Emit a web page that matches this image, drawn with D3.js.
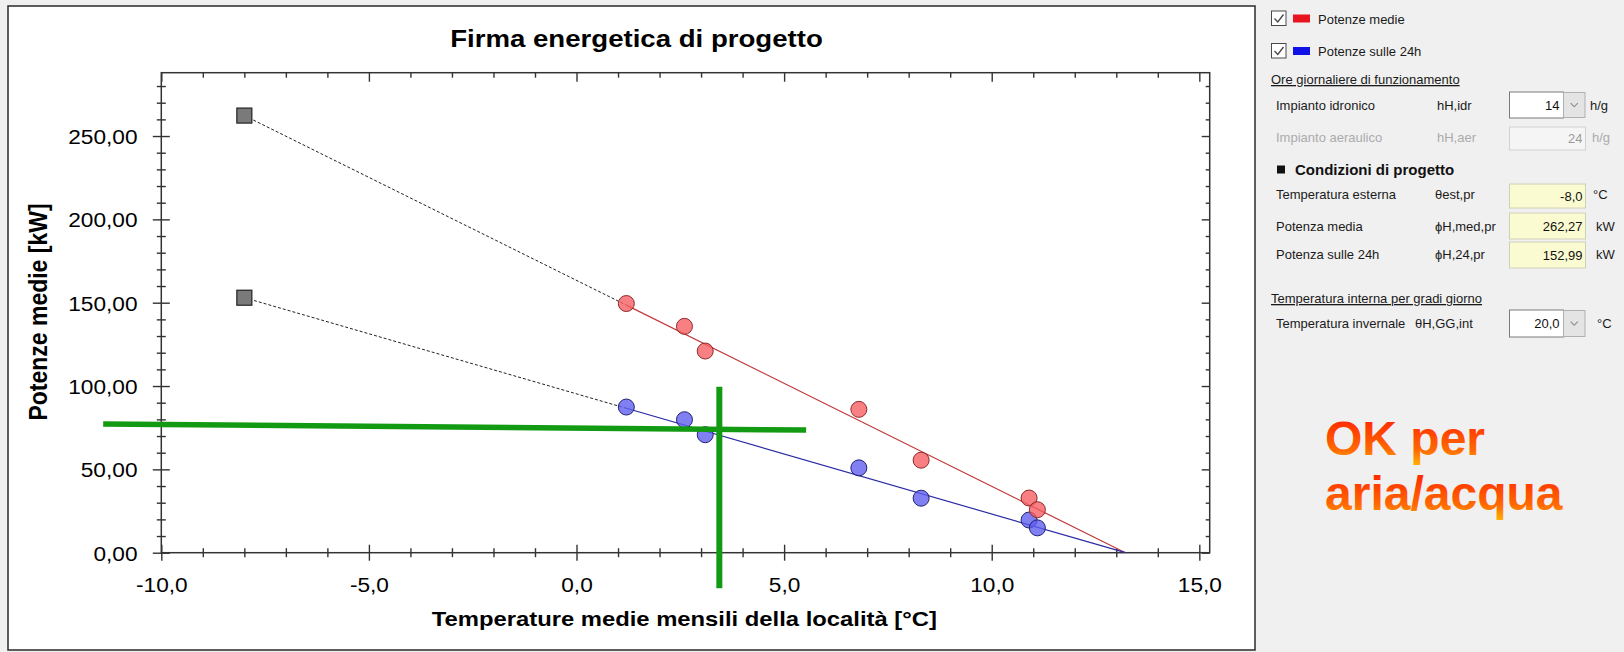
<!DOCTYPE html>
<html>
<head>
<meta charset="utf-8">
<script src="https://cdn.jsdelivr.net/npm/d3@7"></script>
<style>
  html, body { margin: 0; padding: 0; background: #f0f0f0; }
  svg { display: block; }
  text { font-family: "Liberation Sans", Arial, sans-serif; }
</style>
</head>
<body>
<svg id="chart" width="1624" height="652"></svg>
<script>
// Monthly mean outdoor temperatures of the site (°C)
const monthTemps = [1.2, 2.6, 3.1, 6.8, 8.3, 10.9, 11.1];
// Mean heating power per month (kW)
const potenzeMedie = [149.5, 135.8, 121.0, 86.0, 55.5, 32.8, 25.8];
// Power spread over 24 h (kW)
const potenze24h = [87.4, 79.8, 70.8, 50.9, 32.7, 19.6, 14.9];

// Design conditions
const designTemp = -8.0;
const designMedia = 262.27;
const design24h = 152.99;
const zeroLoadTemp = 13.22;
const oreIdronico = 14;
const oreAeraulico = 24;
const tempInvernale = 20.0;

// Axis ticks and extents
const xTicks = [-10, -5, 0, 5, 10, 15];
const yTicks = [0, 50, 100, 150, 200, 250];
const xDomain = [-10, 15.25];
const yDomain = [0, 288];

// Reading guides drawn over the chart (°C, kW)
const guideHTemps = [-11.4, 5.53];
const guideHPowers = [77.2, 73.6];
const guideVTemps = [3.44, 3.44];
const guideVPowers = [99.6, -21.4];

const it = d3.formatLocale({ decimal: ",", thousands: ".", grouping: [3], currency: ["", " €"], minus: "-" });
const fx = it.format(".1f");
const fy = it.format(".2f");

const svg = d3.select("#chart");

// ---------- chart panel ----------
svg.append("rect").attr("x", 8).attr("y", 6).attr("width", 1247).attr("height", 644)
  .attr("fill", "#ffffff").attr("stroke", "#2a2a2a").attr("stroke-width", 1.5);

const x = d3.scaleLinear().domain(xDomain).range([161.3, 1209.7]);
const y = d3.scaleLinear().domain(yDomain).range([552.7, 72.7]);

const axisColor = "#333";
const minorX = d3.range(-10, 16).filter(v => v % 5 !== 0);
const minorY = d3.range(0, 290, 10).filter(v => v % 50 !== 0);

function styleTicks(g) {
  g.select(".domain").remove();
  g.attr("font-size", null).attr("font-family", null);
  g.selectAll(".tick line").attr("stroke", axisColor).attr("stroke-width", 1.4);
}

// bottom axis: major ticks with labels, crossing the axis line
const gB = svg.append("g").attr("transform", `translate(0,${y(0)})`)
  .call(d3.axisBottom(x).tickValues(xTicks).tickFormat(fx).tickSizeOuter(0));
styleTicks(gB);
gB.selectAll(".tick line").attr("y1", -8).attr("y2", 8);
gB.selectAll(".tick text").attr("y", null).attr("dy", null)
  .attr("transform", "translate(0,39) scale(1.08,1)")
  .attr("font-size", 21).attr("fill", "#000");

const gBm = svg.append("g").attr("transform", `translate(0,${y(0)})`)
  .call(d3.axisBottom(x).tickValues(minorX).tickFormat("").tickSizeOuter(0));
styleTicks(gBm);
gBm.selectAll(".tick line").attr("y1", -4.5).attr("y2", 4.5);

// left axis
const gL = svg.append("g").attr("transform", `translate(${x(xDomain[0])},0)`)
  .call(d3.axisLeft(y).tickValues(yTicks).tickFormat(fy).tickSizeOuter(0));
styleTicks(gL);
gL.selectAll(".tick line").attr("x1", -8.5).attr("x2", 8.5);
gL.selectAll(".tick text").attr("x", null).attr("dy", "0.36em")
  .attr("transform", "translate(-23.8,0) scale(1.08,1)")
  .attr("text-anchor", "end").attr("font-size", 21).attr("fill", "#000");

const gLm = svg.append("g").attr("transform", `translate(${x(xDomain[0])},0)`)
  .call(d3.axisLeft(y).tickValues(minorY).tickFormat("").tickSizeOuter(0));
styleTicks(gLm);
gLm.selectAll(".tick line").attr("x1", -4.5).attr("x2", 4.5);

// top and right mirrored ticks, pointing inward
const gT = svg.append("g").attr("transform", `translate(0,${y(yDomain[1])})`)
  .call(d3.axisTop(x).tickValues(xTicks).tickFormat("").tickSizeInner(-9).tickSizeOuter(0));
styleTicks(gT);
const gTm = svg.append("g").attr("transform", `translate(0,${y(yDomain[1])})`)
  .call(d3.axisTop(x).tickValues(minorX).tickFormat("").tickSizeInner(-5).tickSizeOuter(0));
styleTicks(gTm);
const gR = svg.append("g").attr("transform", `translate(${x(xDomain[1])},0)`)
  .call(d3.axisRight(y).tickValues(yTicks).tickFormat("").tickSizeInner(-8).tickSizeOuter(0));
styleTicks(gR);
const gRm = svg.append("g").attr("transform", `translate(${x(xDomain[1])},0)`)
  .call(d3.axisRight(y).tickValues(minorY).tickFormat("").tickSizeInner(-4).tickSizeOuter(0));
styleTicks(gRm);

// plot frame
svg.append("rect")
  .attr("x", x(xDomain[0])).attr("y", y(yDomain[1]))
  .attr("width", x(xDomain[1]) - x(xDomain[0])).attr("height", y(yDomain[0]) - y(yDomain[1]))
  .attr("fill", "none").attr("stroke", axisColor).attr("stroke-width", 1.5);

// titles
svg.append("text")
  .attr("transform", "translate(636.5,46.7) scale(1.15,1)")
  .attr("text-anchor", "middle").attr("font-size", 24).attr("font-weight", "bold")
  .attr("fill", "#000").text("Firma energetica di progetto");

svg.append("text")
  .attr("transform", "translate(684.3,626) scale(1.134,1)")
  .attr("text-anchor", "middle").attr("font-size", 21).attr("font-weight", "bold")
  .attr("fill", "#000").text("Temperature medie mensili della località [°C]");

svg.append("text")
  .attr("transform", "translate(47,312) rotate(-90) scale(1,1.13)")
  .attr("text-anchor", "middle").attr("font-size", 23).attr("font-weight", "bold")
  .attr("fill", "#000").text("Potenze medie [kW]");

// ---------- energy signature lines ----------
const line = d3.line().x(d => x(d[0])).y(d => y(d[1]));
function onLine(t, pDesign) {
  return pDesign * (zeroLoadTemp - t) / (zeroLoadTemp - designTemp);
}
const series = [
  { design: designMedia, values: potenzeMedie, stroke: "#c0393b", fill: "rgba(246,92,96,0.78)", edge: "#8c2a2c" },
  { design: design24h, values: potenze24h, stroke: "#2b2ba6", fill: "rgba(92,92,240,0.78)", edge: "#23236e" }
];
const tFirst = monthTemps[0];
series.forEach(s => {
  // extrapolation from the design point: dashed
  svg.append("path")
    .attr("d", line([[designTemp, s.design], [tFirst, onLine(tFirst, s.design)]]))
    .attr("fill", "none").attr("stroke", "#222").attr("stroke-width", 1)
    .attr("stroke-dasharray", "3,2");
  // fitted range: solid
  svg.append("path")
    .attr("d", line([[tFirst, onLine(tFirst, s.design)], [zeroLoadTemp, 0]]))
    .attr("fill", "none").attr("stroke", s.stroke).attr("stroke-width", 1.2);
});

// design points
svg.selectAll("rect.design")
  .data([designMedia, design24h])
  .join("rect").attr("class", "design")
  .attr("x", d => x(designTemp) - 7.5).attr("y", d => y(d) - 7.5)
  .attr("width", 15).attr("height", 15)
  .attr("fill", "#7a7a7a").attr("stroke", "#222").attr("stroke-width", 1.2);

// monthly points
[series[1], series[0]].forEach(s => {
  svg.append("g").selectAll("circle")
    .data(monthTemps.map((t, i) => [t, s.values[i]]))
    .join("circle")
    .attr("cx", d => x(d[0])).attr("cy", d => y(d[1])).attr("r", 8)
    .attr("fill", s.fill).attr("stroke", s.edge).attr("stroke-width", 1);
});

// reading guides
svg.append("path")
  .attr("d", line(guideHTemps.map((t, i) => [t, guideHPowers[i]])))
  .attr("stroke", "#139a13").attr("stroke-width", 5.5).attr("fill", "none");
svg.append("path")
  .attr("d", line(guideVTemps.map((t, i) => [t, guideVPowers[i]])))
  .attr("stroke", "#139a13").attr("stroke-width", 6).attr("fill", "none");

// ---------- side panel ----------
const panel = svg.append("g").attr("font-size", 13).attr("fill", "#1a1a1a");

function checkbox(yTop) {
  panel.append("rect").attr("x", 1271.5).attr("y", yTop).attr("width", 14.5).attr("height", 14.5)
    .attr("fill", "#fff").attr("stroke", "#4a4a4a").attr("stroke-width", 1);
  panel.append("path")
    .attr("d", `M1274.5,${yTop + 7.5} L1277.8,${yTop + 11} L1283.5,${yTop + 3.5}`)
    .attr("fill", "none").attr("stroke", "#4a4a4a").attr("stroke-width", 1.4);
}
checkbox(11);
checkbox(43.5);
panel.append("rect").attr("x", 1293).attr("y", 14.5).attr("width", 17).attr("height", 8).attr("fill", "#e8141e");
panel.append("rect").attr("x", 1293).attr("y", 47).attr("width", 17).attr("height", 8).attr("fill", "#1010e8");
panel.append("text").attr("x", 1318).attr("y", 23.5).text("Potenze medie");
panel.append("text").attr("x", 1318).attr("y", 56).text("Potenze sulle 24h");

panel.append("text").attr("x", 1271).attr("y", 84).attr("text-decoration", "underline")
  .text("Ore giornaliere di funzionamento");

function row(yBase, label, sym, symX, color) {
  panel.append("text").attr("x", 1276).attr("y", yBase).attr("fill", color).text(label);
  panel.append("text").attr("x", symX).attr("y", yBase).attr("fill", color).text(sym);
}
function comboBox(yTop, h, value) {
  panel.append("rect").attr("x", 1509.5).attr("y", yTop).attr("width", 54).attr("height", h)
    .attr("fill", "#fff").attr("stroke", "#7a7a7a").attr("stroke-width", 1);
  panel.append("rect").attr("x", 1563.5).attr("y", yTop + 0.5).attr("width", 21.5).attr("height", h - 1)
    .attr("fill", "#e4e4e4").attr("stroke", "#b0b0b0").attr("stroke-width", 1);
  const cx = 1574.2, cy = yTop + h / 2;
  panel.append("path").attr("d", `M${cx - 3.5},${cy - 1.8} L${cx},${cy + 1.8} L${cx + 3.5},${cy - 1.8}`)
    .attr("fill", "none").attr("stroke", "#8a8a8a").attr("stroke-width", 1.1);
  panel.append("text").attr("x", 1559.5).attr("y", yTop + h / 2 + 4.6)
    .attr("text-anchor", "end").attr("fill", "#111").text(value);
}
function valueBox(yTop, h, value, fill, stroke, color) {
  panel.append("rect").attr("x", 1509.5).attr("y", yTop).attr("width", 76).attr("height", h)
    .attr("fill", fill).attr("stroke", stroke).attr("stroke-width", 1);
  panel.append("text").attr("x", 1582.5).attr("y", yTop + h / 2 + 4.6)
    .attr("text-anchor", "end").attr("fill", color).text(value);
}

row(110, "Impianto idronico", "hH,idr", 1437, "#1a1a1a");
comboBox(92, 26, String(oreIdronico));
panel.append("text").attr("x", 1590).attr("y", 110).text("h/g");

row(142, "Impianto aeraulico", "hH,aer", 1437, "#ababab");
valueBox(127, 23, String(oreAeraulico), "#f5f5f5", "#d2d2d2", "#9a9a9a");
panel.append("text").attr("x", 1592).attr("y", 142).attr("fill", "#ababab").text("h/g");

panel.append("rect").attr("x", 1277).attr("y", 165.5).attr("width", 8).attr("height", 8).attr("fill", "#111");
panel.append("text").attr("x", 1295).attr("y", 175).attr("font-size", 15).attr("font-weight", "bold")
  .attr("fill", "#111").text("Condizioni di progetto");

const yellow = "#fbfbd2", yellowEdge = "#d0d0b8";
row(199, "Temperatura esterna", "θest,pr", 1435, "#1a1a1a");
valueBox(184, 24, fx(designTemp), yellow, yellowEdge, "#111");
panel.append("text").attr("x", 1593).attr("y", 199).text("°C");

row(230.5, "Potenza media", "ϕH,med,pr", 1435, "#1a1a1a");
valueBox(213, 26, fy(designMedia), yellow, yellowEdge, "#111");
panel.append("text").attr("x", 1596).attr("y", 230.5).text("kW");

row(259, "Potenza sulle 24h", "ϕH,24,pr", 1435, "#1a1a1a");
valueBox(242, 26, fy(design24h), yellow, yellowEdge, "#111");
panel.append("text").attr("x", 1596).attr("y", 259).text("kW");

panel.append("text").attr("x", 1271).attr("y", 303).attr("text-decoration", "underline")
  .text("Temperatura interna per gradi giorno");

row(327.5, "Temperatura invernale", "θH,GG,int", 1415, "#1a1a1a");
comboBox(310, 27, fx(tempInvernale));
panel.append("text").attr("x", 1597).attr("y", 327.5).text("°C");

// ---------- verdict ----------
const defs = svg.append("defs");
const grad = defs.append("linearGradient").attr("id", "okGrad")
  .attr("x1", 0).attr("y1", 0).attr("x2", 0).attr("y2", 1);
grad.append("stop").attr("offset", 0).attr("stop-color", "#ff1a00");
grad.append("stop").attr("offset", 0.72).attr("stop-color", "#ff6a00");
grad.append("stop").attr("offset", 1).attr("stop-color", "#ffb000");

svg.append("text").attr("x", 1325).attr("y", 455).attr("font-size", 48).attr("font-weight", "bold")
  .attr("fill", "url(#okGrad)").text("OK per");
svg.append("text").attr("x", 1325).attr("y", 510).attr("font-size", 48).attr("font-weight", "bold")
  .attr("fill", "url(#okGrad)").text("aria/acqua");
</script>
</body>
</html>
